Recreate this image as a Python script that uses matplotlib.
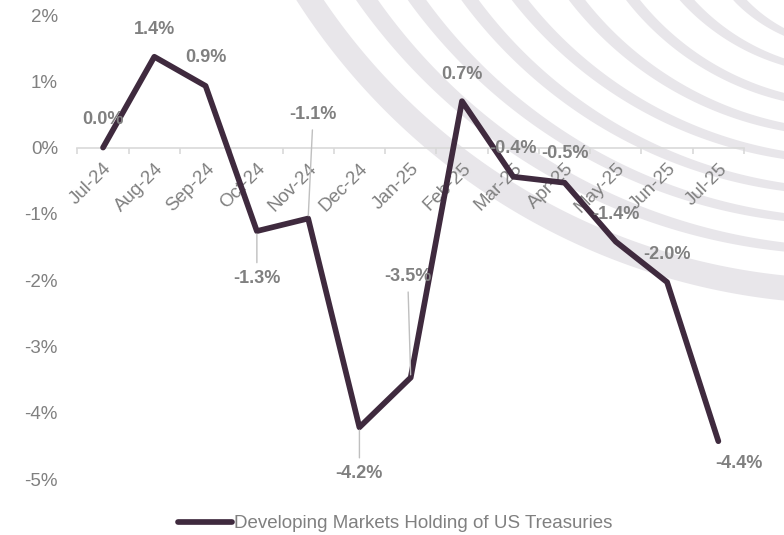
import numpy as np
import matplotlib
matplotlib.use("Agg")
import matplotlib.pyplot as plt
from matplotlib.patches import Polygon

plt.rcParams['font.family'] = ['Liberation Sans', 'DejaVu Sans']

months = ["Jul-24", "Aug-24", "Sep-24", "Oct-24", "Nov-24", "Dec-24", "Jan-25",
          "Feb-25", "Mar-25", "Apr-25", "May-25", "Jun-25", "Jul-25"]
values = [0.0, 1.37, 0.93, -1.26, -1.07, -4.22, -3.47, 0.70, -0.44, -0.53, -1.42, -2.03, -4.43]
series_name = "Developing Markets Holding of US Treasuries"

# label offsets in pixels (dx, dy), and whether a leader line is drawn
lab_off = [(0, 28), (0, 27), (0, 28), (0, -47), (5, 104), (0, -46), (-3, 101),
           (0, 27), (0, 28), (0, 29), (0, 27), (0, 28), (21, -22)]
leader = [False, False, False, True, True, True, True,
          False, False, False, False, False, False]

# decorative background arcs (pixel coords, y down): crossing at top edge x, right edge y
arc_top_x = [310, 367, 417, 470, 520, 577, 633, 687, 740]
arc_right_y = [288, 247, 217, 187, 155, 127, 97, 62, 32]
arc_w_top = [23, 18, 15, 14, 13, 13, 11, 11, 10]
arc_w_right = [25, 9, 8, 8, 8, 8, 8, 7, 7]

W, H = 784, 535
line_col = '#3F2A3E'
grey = '#808080'
arc_col = '#E8E6EA'

fig = plt.figure(figsize=(W / 100, H / 100), dpi=100)

# background arcs
bg = fig.add_axes([0, 0, 1, 1], zorder=0)
bg.set_xlim(0, W)
bg.set_ylim(H, 0)
bg.axis('off')
a = 850.0
for xt, yr, wt, wr in zip(arc_top_x, arc_right_y, arc_w_top, arc_w_right):
    b = ((W - a) ** 2 + yr ** 2 - (xt - a) ** 2) / (2 * yr)
    r = np.hypot(xt - a, b)
    ph_top = np.arctan2(-b, xt - a)
    ph_right = np.arctan2(yr - b, W - a)
    ph = np.linspace(ph_right - 0.3, ph_top + 0.3, 300)
    frac = np.clip((ph - ph_right) / (ph_top - ph_right), 0, 1)
    w = wr + (wt - wr) * frac
    outer = np.column_stack([a + (r + w / 2) * np.cos(ph), b + (r + w / 2) * np.sin(ph)])
    inner = np.column_stack([a + (r - w / 2) * np.cos(ph), b + (r - w / 2) * np.sin(ph)])
    bg.add_patch(Polygon(np.vstack([outer, inner[::-1]]), closed=True,
                         facecolor=arc_col, edgecolor='none'))

# main chart
x0, x1 = 77.4, 744.0
y_top, y_bot = 15.0, 479.0
ax = fig.add_axes([x0 / W, (H - y_bot) / H, (x1 - x0) / W, (y_bot - y_top) / H], zorder=1)
ax.patch.set_visible(False)

x = np.arange(len(months))
ax.plot(x, values, color=line_col, lw=4.1, solid_capstyle='round',
        solid_joinstyle='round', label=series_name, zorder=3)

ax.set_xlim(-0.5, len(months) - 0.5)
ax.set_ylim(-5, 2)
ax.set_yticks(np.arange(-5, 3))
ax.set_yticklabels([f"{v}%" for v in range(-5, 3)])

for s in ['top', 'right', 'left']:
    ax.spines[s].set_visible(False)
ax.spines['bottom'].set_position(('data', 0))
ax.spines['bottom'].set_color('#D9D9D9')
ax.spines['bottom'].set_linewidth(1.2)

ax.set_xticks(np.arange(-0.5, len(months)), labels=[''] * (len(months) + 1))
ax.set_xticks(x, labels=months, minor=True)
ax.tick_params(axis='x', which='major', length=4, width=1.2, color='#D9D9D9', direction='out')
ax.tick_params(axis='x', which='minor', length=0, pad=9, labelsize=13.5, labelcolor=grey)
ax.tick_params(axis='y', length=0, pad=14, labelsize=13.5, labelcolor=grey)
plt.setp(ax.get_xticklabels(minor=True), rotation=45, ha='right', va='top',
         rotation_mode='anchor')

for i, v in enumerate(values):
    dx, dy = lab_off[i]
    kw = {}
    if leader[i]:
        kw['arrowprops'] = dict(arrowstyle='-', color='#BFBFBF', lw=1.0,
                                shrinkA=3, shrinkB=2)
    ax.annotate(f"{v:.1f}%", xy=(i, v), xytext=(dx, dy), textcoords='offset pixels',
                ha='center', va='center', fontsize=13, fontweight='bold',
                color=grey, zorder=4, **kw)

fig.legend(loc='center', bbox_to_anchor=(0.504, 0.021), frameon=False,
           fontsize=13.5, labelcolor=grey, handlelength=2.9, handletextpad=0.1)

fig.savefig("out.png", dpi=100)
